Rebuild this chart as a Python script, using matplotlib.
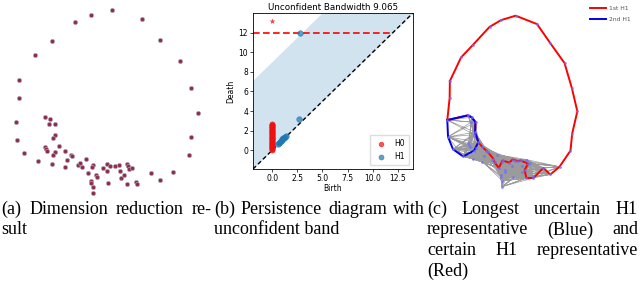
import numpy as np
import matplotlib
matplotlib.use("Agg")
import matplotlib.pyplot as plt

# ---------------- data ----------------
# 2-D embedding of the point cloud (panel a, reused in panel c)
pts_x = [111.7, 91.3, 75.0, 141.7, 52.0, 160.3, 35.0, 180.3, 19.3, 190.7,
         19.0, 198.3, 15.7, 191.0, 16.7, 188.7, 23.7, 44.7, 50.0, 49.3,
         55.3, 54.7, 53.3, 59.3, 45.3, 46.0, 47.0, 55.3, 53.3, 65.0,
         70.7, 72.3, 66.7, 38.0, 52.0, 65.0, 86.0, 78.0, 80.3, 82.0,
         93.3, 92.3, 102.7, 107.3, 110.3, 114.7, 118.7, 126.7, 128.0, 129.3,
         132.0, 120.3, 106.7, 88.0, 96.3, 96.7, 124.3, 121.0, 150.7, 173.3,
         160.3, 135.7, 136.7, 126.7, 107.7, 90.7, 91.3, 93.0, 92.7]
pts_y = [189.7, 185.0, 177.7, 180.7, 158.7, 160.3, 145.0, 139.0, 119.7, 112.0,
         101.7, 87.3, 78.0, 63.3, 60.0, 45.3, 46.7, 83.0, 81.0, 75.7,
         75.7, 65.0, 62.3, 54.3, 53.0, 51.0, 49.3, 48.0, 45.3, 49.0,
         45.3, 44.0, 40.0, 39.0, 36.3, 33.3, 41.0, 35.3, 36.7, 33.0,
         34.7, 33.3, 32.3, 35.7, 34.3, 34.0, 34.7, 35.7, 34.0, 31.3,
         32.0, 29.3, 28.7, 26.7, 24.7, 22.7, 24.7, 22.3, 26.7, 28.0,
         19.7, 18.0, 16.0, 16.0, 16.7, 18.7, 16.7, 13.0, 6.7]

# H1 representatives (node indices, closed loops)
cycle_1st = [8, 6, 4, 2, 1, 0, 3, 5, 7, 9, 11, 13, 15, 59, 60, 58, 62, 63, 56,
             49, 46, 45, 43, 42, 40, 53, 39, 38, 31, 29, 23, 21, 20, 18, 17,
             12, 10, 8]
cycle_2nd = [12, 17, 18, 20, 21, 23, 28, 33, 16, 14, 12]

# persistence diagram
h0_death = [0.05, 0.12, 0.19, 0.27, 0.33, 0.41, 0.48, 0.55, 0.61, 0.69,
            0.76, 0.83, 0.9, 0.98, 1.05, 1.11, 1.19, 1.26, 1.33, 1.4,
            1.47, 1.55, 1.62, 1.69, 1.76, 1.84, 1.91, 1.97, 2.05, 2.12,
            2.19, 2.27, 2.34, 2.41, 2.48, 2.56, 2.63, 2.7]
h0_inf_death = 13.2
h1_birth = [2.82, 2.65, 0.62, 0.7, 0.78, 0.86, 0.95, 1.03, 1.1, 1.18, 1.26, 1.33]
h1_death = [12.0, 3.22, 0.68, 0.78, 0.88, 0.97, 1.06, 1.15, 1.24, 1.31, 1.38, 1.45]
bandwidth = 9.065
inf_level = 12.0
lims = (-1.9, 14.0)

captions = [
    ["(a) Dimension reduction re-", "sult"],
    ["(b) Persistence diagram with", "unconfident band"],
    ["(c) Longest uncertain H1", "representative (Blue) and",
     "certain H1 representative", "(Red)"],
]

# ---------------- figure ----------------
W, H = 640, 288
fig = plt.figure(figsize=(W / 100, H / 100), dpi=100)


def px_axes(x0, y0, x1, y1):
    return fig.add_axes([x0 / W, 1 - y1 / H, (x1 - x0) / W, (y1 - y0) / H])


px = np.array(pts_x)
py = np.array(pts_y)

# ---- panel (a)
axA = px_axes(0, 0, 215, 200)
axA.scatter(px, py, s=9, facecolor="#8e2a52", edgecolor="#b0a0a8", linewidths=0.5)
axA.set_xlim(0, 215)
axA.set_ylim(0, 200)
axA.axis("off")

# ---- panel (b)
axB = px_axes(253, 13, 413, 169)
xs = np.array(lims)
axB.fill_between(xs, xs, xs + bandwidth, color="#1f77b4", alpha=0.2, lw=0, zorder=0)
axB.plot(xs, xs, "k--", lw=1.0, dashes=(3, 2), zorder=1)
axB.plot([lims[0], inf_level], [inf_level, inf_level], "--", color="#ff0000", lw=1.2,
         dashes=(4, 2), zorder=1)
axB.scatter(np.zeros(len(h0_death)), h0_death, s=14, color="#ee1111", alpha=0.7,
            lw=0.5, label="H0", zorder=3)
axB.scatter([0], [h0_inf_death], s=20, marker="*", color="#ee1111", alpha=0.8,
            lw=0, zorder=3)
axB.scatter(h1_birth, h1_death, s=16, color="#1f77b4", alpha=0.7, lw=0.5,
            label="H1", zorder=3)
axB.set_xlim(*lims)
axB.set_ylim(*lims)
axB.set_xticks([0, 2.5, 5, 7.5, 10, 12.5])
axB.set_xticklabels(["0.0", "2.5", "5.0", "7.5", "10.0", "12.5"])
axB.set_yticks([0, 2, 4, 6, 8, 10, 12])
axB.tick_params(labelsize=5.5, length=2, width=0.5, pad=1.5)
for s in axB.spines.values():
    s.set_linewidth(0.6)
axB.set_xlabel("Birth", fontsize=5.5, labelpad=1)
axB.set_ylabel("Death", fontsize=5.5, labelpad=2)
axB.set_title("Unconfident Bandwidth 9.065", fontsize=6.3, pad=2.5)
axB.legend(loc="lower right", fontsize=5.5, markerscale=0.9, handletextpad=0.8,
           borderpad=0.5, labelspacing=0.6, framealpha=1, edgecolor="#dddddd",
           fancybox=True)

# ---- panel (c)
axC = px_axes(430, 0, 640, 200)
EDGE_X_WEIGHT = 0.5
EDGE_RADIUS = 26.0
DENSE_BELOW = 85.0
n = len(px)
segs_x, segs_y = [], []
for i in range(n):
    for j in range(i + 1, n):
        d = np.hypot((px[i] - px[j]) * EDGE_X_WEIGHT, py[i] - py[j])
        if d < EDGE_RADIUS and py[i] < DENSE_BELOW and py[j] < DENSE_BELOW:
            segs_x += [px[i], px[j], np.nan]
            segs_y += [py[i], py[j], np.nan]
axC.plot(segs_x, segs_y, color="#8a8a8a", lw=0.5, alpha=0.85, zorder=1)
axC.plot(px[cycle_1st], py[cycle_1st], color="red", lw=1.4, zorder=2, label="1st H1")
axC.plot(px[cycle_2nd], py[cycle_2nd], color="#0000ee", lw=1.4, zorder=3, label="2nd H1")
axC.scatter(px, py, s=4, color="#7070ff", alpha=0.8, lw=0, zorder=4)
axC.set_xlim(-8.6, 286.3)
axC.set_ylim(-7.6, 206.5)
axC.axis("off")
axC.legend(loc="upper left", bbox_to_anchor=((590 - 430) / 210, 1 - 6 / 200),
           fontsize=4.3, frameon=False, handlelength=2.6, handletextpad=0.6,
           labelspacing=0.9, borderpad=0, borderaxespad=0, labelcolor="#555555")

# ---- captions (justified)
fig.canvas.draw()
renderer = fig.canvas.get_renderer()
cap_font = dict(family="Liberation Serif", size=13)
col_x = [1, 214, 427]
col_w = 211
base0 = 214
pitch = 20.5
for c, lines in enumerate(captions):
    for k, line in enumerate(lines):
        yb = 1 - (base0 + k * pitch) / H
        last = (k == len(lines) - 1)
        words = line.split(" ")
        if last or len(words) == 1:
            fig.text(col_x[c] / W, yb, line, va="baseline", ha="left", **cap_font)
            continue
        ts = [fig.text(0, yb, w, va="baseline", ha="left", **cap_font) for w in words]
        widths = [t.get_window_extent(renderer).width for t in ts]
        gap = (col_w - sum(widths)) / (len(words) - 1)
        xcur = col_x[c]
        for t, wd in zip(ts, widths):
            t.set_x(xcur / W)
            xcur += wd + gap

fig.savefig("out.png", dpi=100)
